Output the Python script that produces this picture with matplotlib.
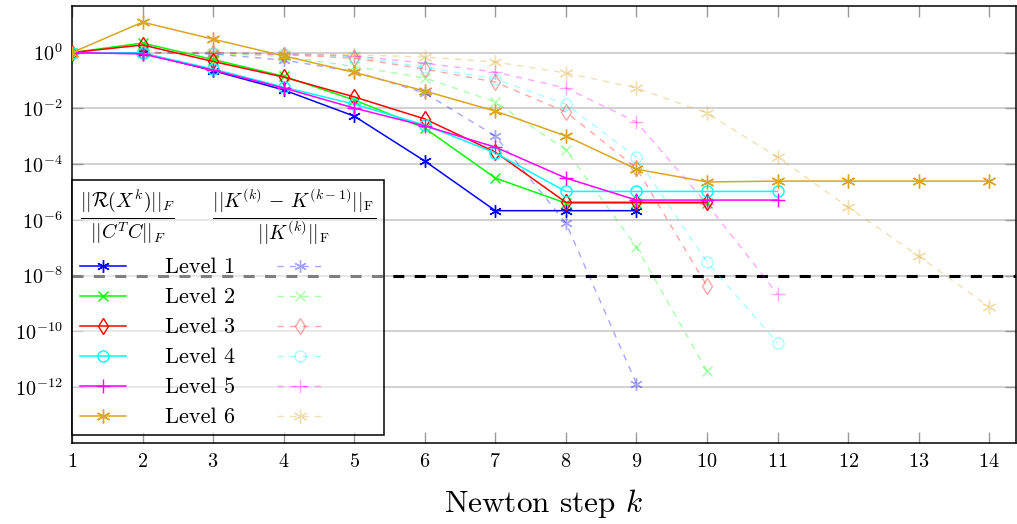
import numpy as np
import matplotlib
matplotlib.use('Agg')
import matplotlib.pyplot as plt

plt.rcParams['mathtext.fontset'] = 'cm'
plt.rcParams['font.family'] = 'serif'
plt.rcParams['font.serif'] = ['cmr10', 'DejaVu Serif']
plt.rcParams['axes.formatter.use_mathtext'] = True

# residual norms (log10), one list per level, starting at k = 1
res_lvl1 = [0, -0.02, -0.65, -1.34, -2.28, -3.89, -5.67, -5.67, -5.67]
res_lvl2 = [0, 0.34, -0.25, -0.85, -1.70, -2.71, -4.50, -5.40, -5.40, -5.40]
res_lvl3 = [0, 0.27, -0.32, -0.88, -1.59, -2.38, -3.57, -5.37, -5.37, -5.37]
res_lvl4 = [0, -0.02, -0.59, -1.24, -1.85, -2.60, -3.60, -4.98, -4.98, -4.98, -4.98]
res_lvl5 = [0, -0.05, -0.63, -1.27, -1.99, -2.63, -3.39, -4.50, -5.29, -5.29, -5.29]
res_lvl6 = [0, 1.09, 0.48, -0.12, -0.71, -1.38, -2.10, -2.99, -4.18, -4.64,
            -4.61, -4.61, -4.61, -4.61]

# relative increments of K (log10), starting at k = 2
inc_lvl1 = [0, -0.05, -0.27, -0.68, -1.45, -2.99, -6.11, -11.87]
inc_lvl2 = [0, -0.03, -0.14, -0.50, -0.91, -1.77, -3.49, -6.97, -11.41]
inc_lvl3 = [0, 0, -0.08, -0.20, -0.59, -1.06, -2.13, -4.14, -8.37]
inc_lvl4 = [0, 0, -0.06, -0.15, -0.52, -0.95, -1.85, -3.75, -7.51, -10.41]
inc_lvl5 = [0, 0, -0.05, -0.12, -0.38, -0.70, -1.27, -2.49, -5.43, -8.66]
inc_lvl6 = [0, 0, -0.04, -0.08, -0.16, -0.34, -0.73, -1.27, -2.17, -3.75,
            -5.54, -7.30, -9.12]

tolerance = 1e-8
levels = ['Level 1', 'Level 2', 'Level 3', 'Level 4', 'Level 5', 'Level 6']
colors = ['#0000ff', '#00ff00', '#ff0000', '#00ffff', '#ff00ff', '#daa520']
markers = [(6, 2, 0), 'x', 'd', 'o', '+', (6, 2, 0)]
msizes = [9, 7, 8, 8, 10, 10]

residuals = [res_lvl1, res_lvl2, res_lvl3, res_lvl4, res_lvl5, res_lvl6]
increments = [inc_lvl1, inc_lvl2, inc_lvl3, inc_lvl4, inc_lvl5, inc_lvl6]

fig = plt.figure(figsize=(10.17, 5.24), dpi=100)
ax = fig.add_axes([0.0708, 0.1546, 0.9282, 0.834])

solid_handles = []
dashed_handles = []
for i in range(6):
    k = np.arange(1, len(residuals[i]) + 1)
    ln, = ax.plot(k, 10.0 ** np.array(residuals[i]), color=colors[i], lw=1.1,
                  marker=markers[i], ms=msizes[i], mfc='none', mec=colors[i],
                  mew=1.0, zorder=4)
    solid_handles.append(ln)

for i in range(6):
    k = np.arange(2, len(increments[i]) + 2)
    ln, = ax.plot(k, 10.0 ** np.array(increments[i]), color=colors[i], lw=1.0,
                  ls=(0, (4.5, 4.5)), marker=markers[i], ms=msizes[i],
                  mfc='none', mec=colors[i], mew=1.0, alpha=0.35, zorder=3)
    dashed_handles.append(ln)

# stopping tolerance
ax.axhline(tolerance, color='black', lw=2.2, ls=(0, (3.6, 3.4)), zorder=2)

ax.set_yscale('log')
ax.set_xlim(1, 14.38)
ax.set_ylim(1e-14, 10 ** 1.67)
ax.set_xticks(np.arange(1, 15))
ax.set_yticks([10.0 ** e for e in range(0, -13, -2)])
ax.yaxis.set_minor_locator(matplotlib.ticker.NullLocator())
ax.grid(axis='y', color='#c8c8c8', lw=1.2, zorder=0)
ax.tick_params(direction='in', top=True, right=True, length=8, width=1,
               color='#999999', labelsize=14.5, pad=7)
for s in ax.spines.values():
    s.set_linewidth(1.1)

ax.set_xlabel('Newton step $k$', fontsize=22.5, labelpad=12)

handles = solid_handles + dashed_handles
labels = levels + [''] * 6
title = (r'$\frac{||\mathcal{R}(X^k)||_F}{||C^TC||_F}\quad\;\,'
         r'\frac{||K^{(k)}\,-\,K^{(k-1)}||_\mathrm{F}}{||K^{(k)}||_\mathrm{F}}$')
leg = ax.legend(handles, labels, ncol=2, loc='lower left',
                bbox_to_anchor=(0.0, 0.018), borderaxespad=0, fontsize=16,
                title=title, title_fontsize=20.5, alignment='left',
                fancybox=False, handlelength=2.1, handletextpad=1.75,
                columnspacing=1.85, labelspacing=0.47, borderpad=0.35)
frame = leg.get_frame()
frame.set_alpha(None)
frame.set_facecolor((1, 1, 1, 0.5))
frame.set_edgecolor((0, 0, 0, 1))
frame.set_linewidth(1.1)
leg.set_zorder(5)

fig.savefig('out.png', dpi=100)
